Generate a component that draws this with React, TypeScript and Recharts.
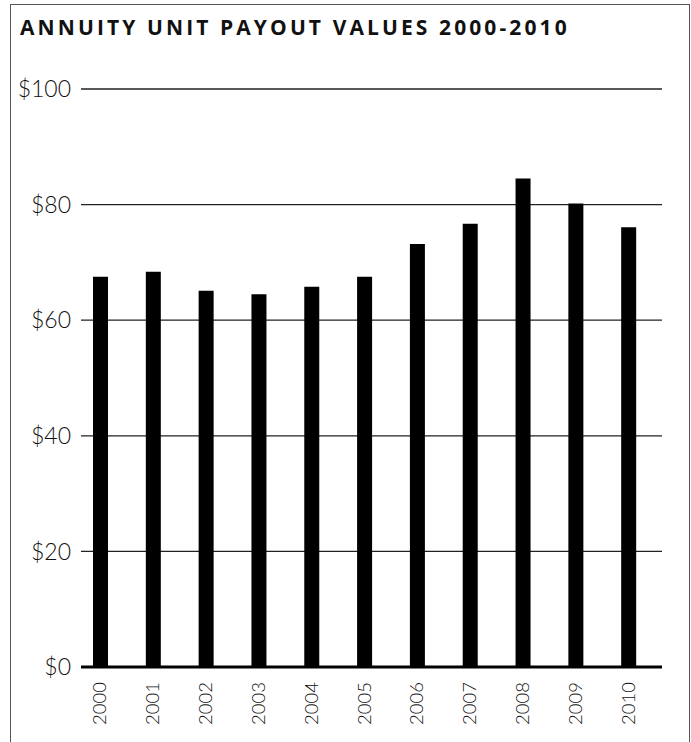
import React from 'react';
import { BarChart, Bar, XAxis, YAxis, CartesianGrid } from 'recharts';

const years = ['2000', '2001', '2002', '2003', '2004', '2005', '2006', '2007', '2008', '2009', '2010'];
const payouts = [67.5, 68.4, 65.1, 64.5, 65.8, 67.5, 73.2, 76.7, 84.5, 80.2, 76.1];
const yTicks = [0, 20, 40, 60, 80, 100];

const data = years.map((year, i) => ({ year, value: payouts[i] }));

const titleFont = '"Open Sans", "Noto Sans", sans-serif';
const tickFont = 'Lato, "Open Sans", sans-serif';

function YearTick({ x, y, payload }: any) {
  return (
    <text
      transform={`translate(${x + 6}, ${y + 7}) rotate(-90)`}
      textAnchor="end"
      fontFamily={tickFont}
      fontWeight={300}
      fontSize={18.5}
      fill="#111"
    >
      {payload.value}
    </text>
  );
}

export default function App() {
  return (
    <div style={{ position: 'absolute', left: 0, top: 0, width: 691, height: 742, overflow: 'hidden', background: '#fff' }}>
      <div
        style={{
          position: 'absolute',
          left: 10,
          top: 4,
          width: 678,
          height: 760,
          borderLeft: '1.5px solid #555',
          borderTop: '1.5px solid #555',
          borderRight: '1.5px solid #555',
        }}
      />
      <div
        style={{
          position: 'absolute',
          left: 20,
          top: 13,
          fontFamily: titleFont,
          fontWeight: 700,
          fontSize: 21,
          letterSpacing: 3.1,
          color: '#111',
          whiteSpace: 'nowrap',
        }}
      >
        ANNUITY UNIT PAYOUT VALUES 2000-2010
      </div>
      <div style={{ position: 'absolute', left: 0, top: 0 }}>
        <BarChart width={691} height={742} data={data} margin={{ top: 89, right: 29, left: 0, bottom: 0 }}>
          <CartesianGrid horizontal vertical={false} stroke="#222" strokeWidth={1.3} />
          <XAxis
            dataKey="year"
            height={75}
            padding={{ left: -7, right: 7 }}
            axisLine={{ stroke: '#000', strokeWidth: 3 }}
            tickLine={false}
            interval={0}
            tick={<YearTick />}
          />
          <YAxis
            domain={[0, 100]}
            ticks={yTicks}
            width={81}
            axisLine={false}
            tickLine={false}
            tickSize={0}
            tickMargin={10}
            tickFormatter={(v: number) => `$${v}`}
            tick={{ fontFamily: tickFont, fontWeight: 300, fontSize: 23, fill: '#111' }}
          />
          <Bar dataKey="value" fill="#000" barSize={15} isAnimationActive={false} />
        </BarChart>
      </div>
    </div>
  );
}
